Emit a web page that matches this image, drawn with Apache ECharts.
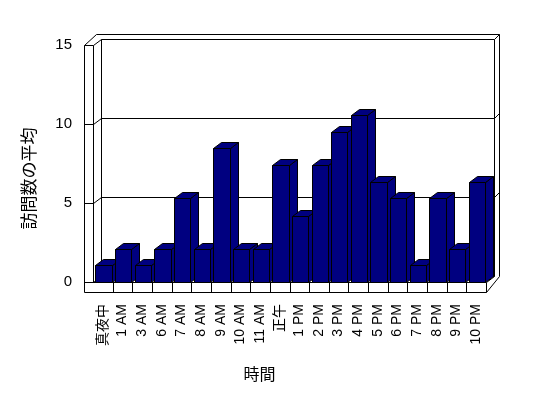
<!DOCTYPE html>
<html>
<head>
<meta charset="utf-8">
<script src="https://cdn.jsdelivr.net/npm/echarts@6/dist/echarts.min.js"></script>
<style>
  html, body { margin: 0; padding: 0; background: #fff; }
  #main { width: 548px; height: 398px; }
</style>
</head>
<body>
<div id="main"></div>
<script>
// 時間帯ごとの訪問数の平均
const hours = ['真夜中', '1 AM', '3 AM', '6 AM', '7 AM', '8 AM', '9 AM', '10 AM', '11 AM', '正午',
  '1 PM', '2 PM', '3 PM', '4 PM', '5 PM', '6 PM', '7 PM', '8 PM', '9 PM', '10 PM'];
const visits = [1.05, 2.1, 1.05, 2.1, 5.3, 2.1, 8.5, 2.1, 2.1, 7.4,
  4.2, 7.4, 9.5, 10.6, 6.35, 5.3, 1.05, 5.3, 2.1, 6.35];
const yTicks = [0, 5, 10, 15];

const myChart = echarts.init(document.getElementById('main'));

// 3D風の奥行き
const DX = 8, DY = 6, WALL = 9, FLOOR = 10, RIM = 5;
const px = (v) => Math.round(v) + 0.5;
const lineStyle = { stroke: '#000', lineWidth: 1, fill: null };
const faceStyle = { fill: '#000080', stroke: '#000', lineWidth: 1 };

function line(points) {
  return { type: 'polyline', shape: { points: points.map((p) => [px(p[0]), px(p[1])]) }, style: lineStyle, silent: true };
}

// 壁と床
function renderFrame(params, api) {
  const lb = api.coord([0, 0]);
  const rt = api.coord([hours.length, yTicks[yTicks.length - 1]]);
  const xL = lb[0], yB = lb[1], xR = rt[0], yT = rt[1];
  const children = [
    line([[xL - WALL, yT], [xL - WALL, yB + FLOOR], [xR, yB + FLOOR], [xR, yB]]),
    line([[xL - WALL, yT], [xL + DX - RIM, yT - DY - RIM], [xR + DX + RIM, yT - DY - RIM], [xR + DX + RIM, yB - DY], [xR, yB + FLOOR]]),
    line([[xL, yT], [xL, yB]]),
    line([[xL + DX, yT - DY], [xL + DX, yB - DY]]),
    line([[xR + DX, yT - DY], [xR + DX, yB - DY], [xR, yB]]),
  ];
  // 床の前面の区切り
  for (let i = 1; i < hours.length; i++) {
    const x = api.coord([i, 0])[0];
    children.push(line([[x, yB], [x, yB + FLOOR]]));
  }
  yTicks.forEach((t) => {
    const y = api.coord([0, t])[1];
    const pts = [[xL - WALL, y], [xL, y], [xL + DX, y - DY], [xR + DX, y - DY]];
    if (t > 0) pts.push([xR + DX + RIM, y - DY - RIM]);
    children.push(line(pts));
  });
  return { type: 'group', children };
}

// 立体の棒
function renderBar(params, api) {
  const i = api.value(0);
  const base = api.coord([i, 0]);
  const top = api.coord([i, api.value(1)]);
  const s = api.size([1, 0])[0];
  const L = px(base[0] + s * 0.12), R = px(base[0] + s * 0.95);
  const yb = px(base[1]), yt = px(top[1]);
  return {
    type: 'group',
    children: [
      { type: 'polygon', shape: { points: [[R, yt], [R + DX, yt - DY], [R + DX, yb - DY], [R, yb]] }, style: faceStyle },
      { type: 'polygon', shape: { points: [[L, yt], [L + DX, yt - DY], [R + DX, yt - DY], [R, yt]] }, style: faceStyle },
      { type: 'rect', shape: { x: L, y: yt, width: R - L, height: yb - yt }, style: faceStyle },
    ],
  };
}

const font = '"Liberation Sans", "Noto Sans CJK JP", sans-serif';

const options = {
  animation: false,
  backgroundColor: '#fff',
  textStyle: { fontFamily: font, color: '#000' },
  grid: { left: 93, right: 62, top: 45, bottom: 116 },
  xAxis: [
    {
      type: 'category',
      data: hours,
      axisLine: { lineStyle: { color: '#000', width: 1 } },
      axisTick: { show: false },
      axisLabel: { rotate: 90, interval: 0, margin: 22, fontSize: 14, color: '#000', fontFamily: font },
      name: '時間',
      nameLocation: 'middle',
      nameGap: 86,
      nameTextStyle: { fontSize: 16, color: '#000', fontFamily: font, padding: [0, 60, 0, 0] },
    },
    { type: 'value', min: 0, max: hours.length, show: false },
  ],
  yAxis: {
    type: 'value',
    min: 0,
    max: 15,
    interval: 5,
    axisLine: { show: false },
    axisTick: { show: false },
    splitLine: { show: false },
    axisLabel: { margin: 21, fontSize: 15, color: '#000', fontFamily: font },
    name: '訪問数の平均',
    nameLocation: 'middle',
    nameRotate: 90,
    nameGap: 54,
    nameTextStyle: { fontSize: 17, color: '#000', fontFamily: font, padding: [0, 30, 0, 0] },
  },
  series: [
    { type: 'custom', xAxisIndex: 1, z: 1, silent: true, renderItem: renderFrame, data: [[0, 0]] },
    {
      type: 'custom',
      name: '訪問数の平均',
      xAxisIndex: 1,
      z: 2,
      renderItem: renderBar,
      encode: { x: 0, y: 1 },
      data: visits.map((v, i) => [i, v]),
    },
  ],
};

myChart.setOption(options);
</script>
</body>
</html>
